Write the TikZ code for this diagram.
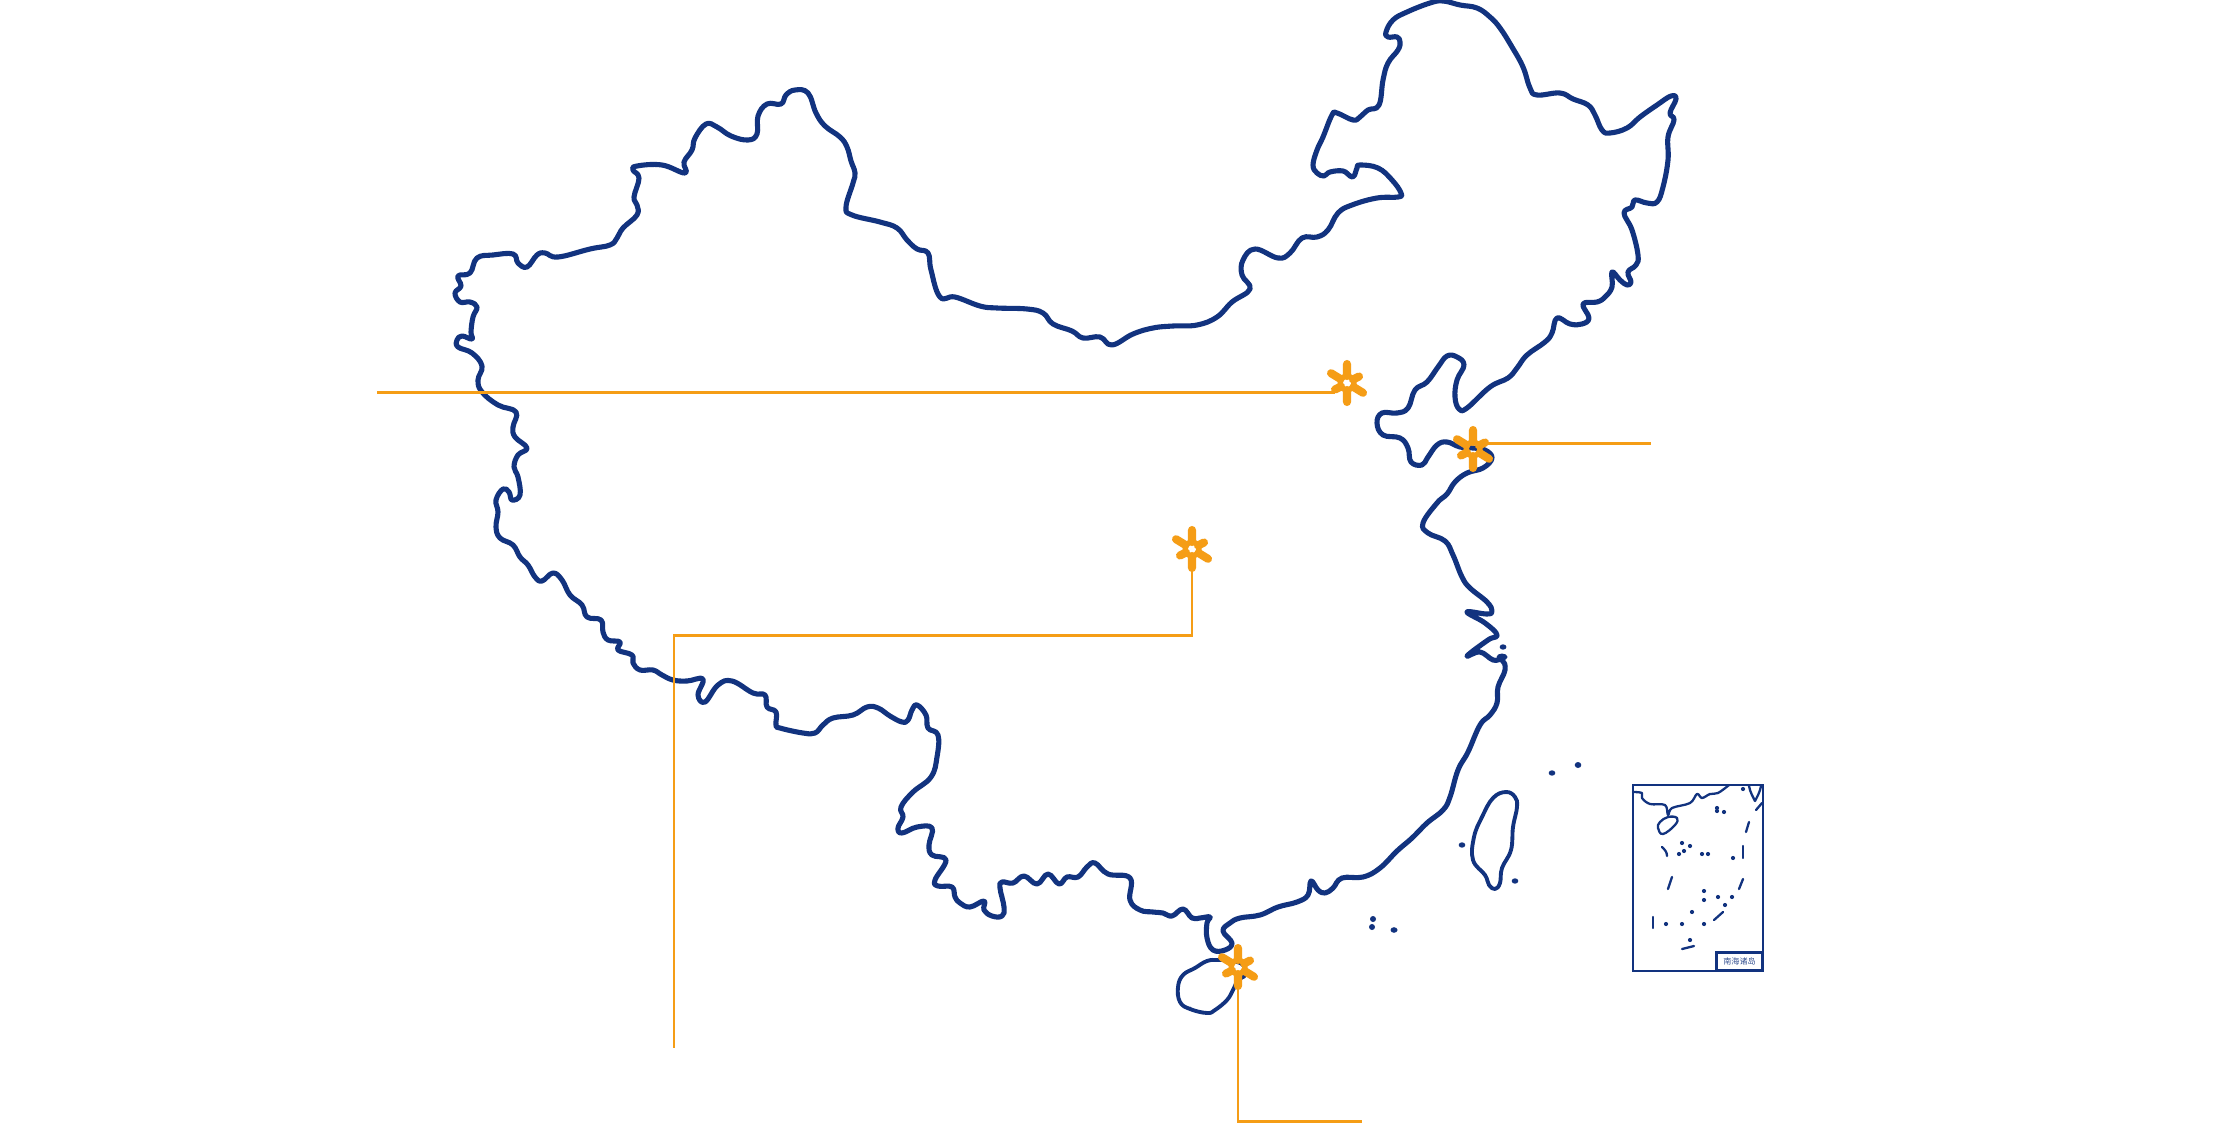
\documentclass[tikz,border=0pt]{standalone}
\usepackage{fontspec}
\newfontfamily\cjkfont{Noto Sans CJK SC}
\definecolor{mapnavy}{HTML}{12337F}
\definecolor{markorange}{HTML}{F59D16}
\tikzset{
  x=0.02cm,y=-0.02cm,
  coast/.style={draw=mapnavy,line width=2.9pt,line join=round,line cap=round},
  island/.style={draw=mapnavy,line width=2.2pt,line join=round},
  insetline/.style={draw=mapnavy,line width=1.3pt,line join=round,line cap=round},
  leader/.style={draw=markorange,line width=1.2pt,line join=miter},
  hubstar/.pic={
    \draw[markorange,line width=4.6pt,line cap=round]
      (0,-7)--(0,-19) (0,7)--(0,19) (-6.5,-4)--(-16,-9.8) (6.5,4)--(16,9.8)
      (6,-3.5)--(12,-6.5) (-6,3.5)--(-12,6.5);
    \fill[markorange,even odd rule] (0,-11)--(9.5,-5.5)--(9.5,5.5)--(0,11)--(-9.5,5.5)--(-9.5,-5.5)--cycle
      (0,-4.6)--(4,-2.3)--(4,2.3)--(0,4.6)--(-4,2.3)--(-4,-2.3)--cycle;
  }
}
\begin{document}
\begin{tikzpicture}
\useasboundingbox[fill=white] (0,0) rectangle (2214,1146);
% mainland
\draw[coast] plot[smooth cycle,tension=0.7] coordinates {
(1443,1)(1460,5)(1477,8)(1490,17)(1500,28)(1512,47)(1523,67)(1530,88)(1537,95)(1560,93)(1573,99)(1588,105)(1595,115)(1602,130)(1610,133)(1627,128)(1640,117)(1657,105)(1671,96)(1676,99)(1670,113)(1674,120)(1668,137)(1668,160)(1663,187)(1657,202)(1647,203)(1635,200)(1632,207)(1624,213)(1632,230)(1638,255)(1636,265)(1628,272)(1631,282)(1627,285)(1620,280)(1612,272)(1612,287)(1605,297)(1597,302)(1583,304)(1589,318)(1582,324)(1570,324)(1557,318)(1552,333)(1545,342)(1527,355)(1517,368)(1508,378)(1490,387)(1467,408)(1459,409)(1455,397)(1457,380)(1464,365)(1457,357)(1447,356)(1438,367)(1427,382)(1415,390)(1408,408)(1397,413)(1382,413)(1377,423)(1383,435)(1400,438)(1408,448)(1411,462)(1422,465)(1428,457)(1437,445)(1447,442)(1460,447)(1473,448)(1485,450)(1492,458)(1483,468)(1467,473)(1455,482)(1447,494)(1437,503)(1423,523)(1428,533)(1445,541)(1453,555)(1462,577)(1470,588)(1487,602)(1492,611)(1487,614)(1467,612)(1485,623)(1497,635)(1488,640)(1467,656)(1480,652)(1493,660)(1502,660)(1505,670)(1498,687)(1497,703)(1490,715)(1480,725)(1468,752)(1458,770)(1450,797)(1443,810)(1427,823)(1412,838)(1397,851)(1380,868)(1363,877)(1342,878)(1333,888)(1325,893)(1318,890)(1311,881)(1308,895)(1297,902)(1278,907)(1260,915)(1240,918)(1230,923)(1223,931)(1232,943)(1225,950)(1213,950)(1207,938)(1207,923)(1210,917)(1200,918)(1192,918)(1183,909)(1172,916)(1163,913)(1153,912)(1140,910)(1130,900)(1130,878)(1108,874)(1095,863)(1087,867)(1078,877)(1067,877)(1059,884)(1048,874)(1037,884)(1024,876)(1013,883)(1002,882)(1000,888)(1004,907)(1002,916)(992,916)(984,910)(984,901)(970,907)(960,903)(955,897)(952,887)(938,886)(935,880)(946,860)(932,855)(929,845)(932,828)(917,827)(902,833)(898,828)(903,817)(901,807)(913,792)(931,777)(937,757)(938,735)(928,728)(926,715)(917,705)(912,710)(908,720)(902,722)(890,716)(878,708)(867,707)(853,715)(833,718)(823,725)(815,733)(803,733)(780,728)(776,725)(776,712)(767,707)(765,695)(753,693)(732,681)(718,685)(705,702)(698,695)(703,679)(687,681)(673,680)(662,675)(653,670)(640,670)(633,663)(632,655)(618,650)(620,642)(608,640)(603,632)(601,620)(587,617)(582,605)(570,595)(562,580)(553,573)(542,581)(535,577)(528,565)(520,557)(513,545)(500,538)(496,527)(498,512)(496,500)(503,489)(509,492)(512,500)(520,495)(518,477)(514,467)(518,455)(527,448)(515,437)(513,427)(516,412)(498,405)(482,392)(478,380)(482,366)(472,353)(458,347)(457,340)(462,336)(472,339)(471,332)(473,317)(477,307)(470,302)(460,302)(455,293)(461,286)(458,276)(470,273)(477,258)(493,255)(513,254)(518,263)(527,267)(537,255)(545,253)(558,257)(590,249)(610,245)(617,238)(623,228)(637,215)(637,205)(634,197)(639,178)(633,170)(637,166)(662,165)(685,173)(684,162)(692,150)(695,138)(706,124)(717,127)(731,136)(748,140)(757,134)(758,116)(767,104)(781,104)(786,95)(795,90)(808,93)(816,113)(825,126)(840,137)(847,147)(851,161)(855,173)(853,183)(846,207)(852,215)(880,222)(897,228)(907,240)(917,249)(928,253)(931,270)(940,297)(955,297)(980,306)(997,308)(1027,309)(1043,313)(1053,324)(1072,331)(1083,338)(1100,337)(1112,345)(1133,334)(1153,328)(1173,326)(1197,325)(1217,317)(1232,302)(1250,289)(1242,275)(1243,260)(1255,249)(1278,258)(1290,253)(1302,238)(1317,237)(1328,230)(1338,213)(1352,205)(1377,198)(1398,197)(1401,193)(1392,180)(1378,168)(1360,165)(1357,168)(1354,176)(1350,176)(1343,171)(1330,172)(1324,176)(1317,173)(1313,165)(1317,150)(1323,137)(1332,115)(1337,113)(1353,120)(1360,117)(1368,110)(1379,105)(1383,80)(1388,63)(1398,50)(1400,42)(1397,37)(1388,37)(1386,32)(1393,20)(1407,12)(1430,3)};
% Hainan
\draw[island] plot[smooth cycle,tension=0.7] coordinates {
(1218,960)(1207,961)(1195,968)(1183,975)(1178,987)(1180,1002)(1190,1009)(1207,1013)(1215,1010)(1227,1000)(1233,990)(1238,980)(1245,975)(1243,965)(1232,961)};
% Taiwan
\draw[island] plot[smooth cycle,tension=0.7] coordinates {
(1506,792)(1515,797)(1517,807)(1513,827)(1511,850)(1502,868)(1500,883)(1495,889)(1489,885)(1485,875)(1473,860)(1474,837)(1482,817)(1493,798)};
% islets
\foreach \px/\py/\rx/\ry in {1503/647/3.4/2.7,1502/657/5.5/3.5,1462/845/3.3/2.7,1515/881/3.3/2.7,1552/773/3.3/2.7,1578/765/3.3/3,1373/919/3/3,1372/927/3/3,1394/930/3.5/2.8,1190/1008/1.5/1.5}
  \fill[mapnavy] (\px,\py) ellipse [x radius=\rx,y radius=\ry];
% inset
\draw[mapnavy,line width=1.3pt] (1633,785) rectangle (1763,971);
\node[draw=mapnavy,line width=1.3pt,fill=white,minimum width=0.92cm,minimum height=0.36cm,inner sep=0pt,text=mapnavy!85,font=\cjkfont\fontsize{4.6pt}{5pt}\selectfont] (insetlabel) at (1739.5,961.5) {南海诸岛};
\draw[insetline] plot[smooth,tension=0.6] coordinates {(1633,792)(1642,793)(1642,798)(1650,804)(1665,805)(1668,815)(1672,808)(1690,803)(1697,794)(1702,798)(1710,794)(1718,793)(1729,785)};
\draw[insetline] plot[smooth cycle,tension=0.7] coordinates {(1668,817)(1677,818)(1675,825)(1663,834)(1658,828)(1660,822)};
\draw[insetline] (1749,786) .. controls (1750,792) and (1753,797) .. (1755,801) .. controls (1757,797) and (1760,792) .. (1761,786);
\foreach \ax/\ay/\bx/\by in {1756/810/1762/803,1746/832/1749/822,1743/846/1743/858,1672/877/1668/889,1743/879/1739/889,1723/912/1714/920,1653/917/1653/928,1682/949/1694/946}
  \draw[insetline] (\ax,\ay)--(\bx,\by);
\draw[insetline] (1662,847) .. controls (1665,850) and (1667,852) .. (1667,856);
\foreach \px/\py in {1743/789,1717/808,1717/811,1724/812,1682/843,1690/846,1684/851,1679/854,1702/854,1708/854,1733/858,1704/891,1704/900,1718/897,1732/897,1725/905,1692/912,1666/924,1682/924,1704/924,1690/940}
  \fill[mapnavy] (\px,\py) circle (2.1);
% named marker positions and leader ends
\coordinate (starA) at (1347,383);
\coordinate (starB) at (1473,449);
\coordinate (starC) at (1192,549);
\coordinate (starD) at (1238,967);
\coordinate (endA) at (377,392.5);
\coordinate (rootA) at (1335,392.5);
\coordinate (rootB) at (1487,443.5);
\coordinate (endB) at (1651,443.5);
\coordinate (rootC) at (1192,565);
\coordinate (bendC) at (1192,635.5);
\coordinate (kneeC) at (674,635.5);
\coordinate (endC) at (674,1048);
\coordinate (rootD) at (1238,985);
\coordinate (bendD) at (1238,1121.5);
\coordinate (endD) at (1362,1121.5);
\draw[leader] (endA)--(rootA);
\draw[leader] (rootB)--(endB);
\draw[leader] (rootC)--(bendC)--(kneeC)--(endC);
\draw[leader] (rootD)--(bendD)--(endD);
\path (starA) pic {hubstar};
\path (starB) pic {hubstar};
\path (starC) pic {hubstar};
\path (starD) pic {hubstar};
\end{tikzpicture}
\end{document}
